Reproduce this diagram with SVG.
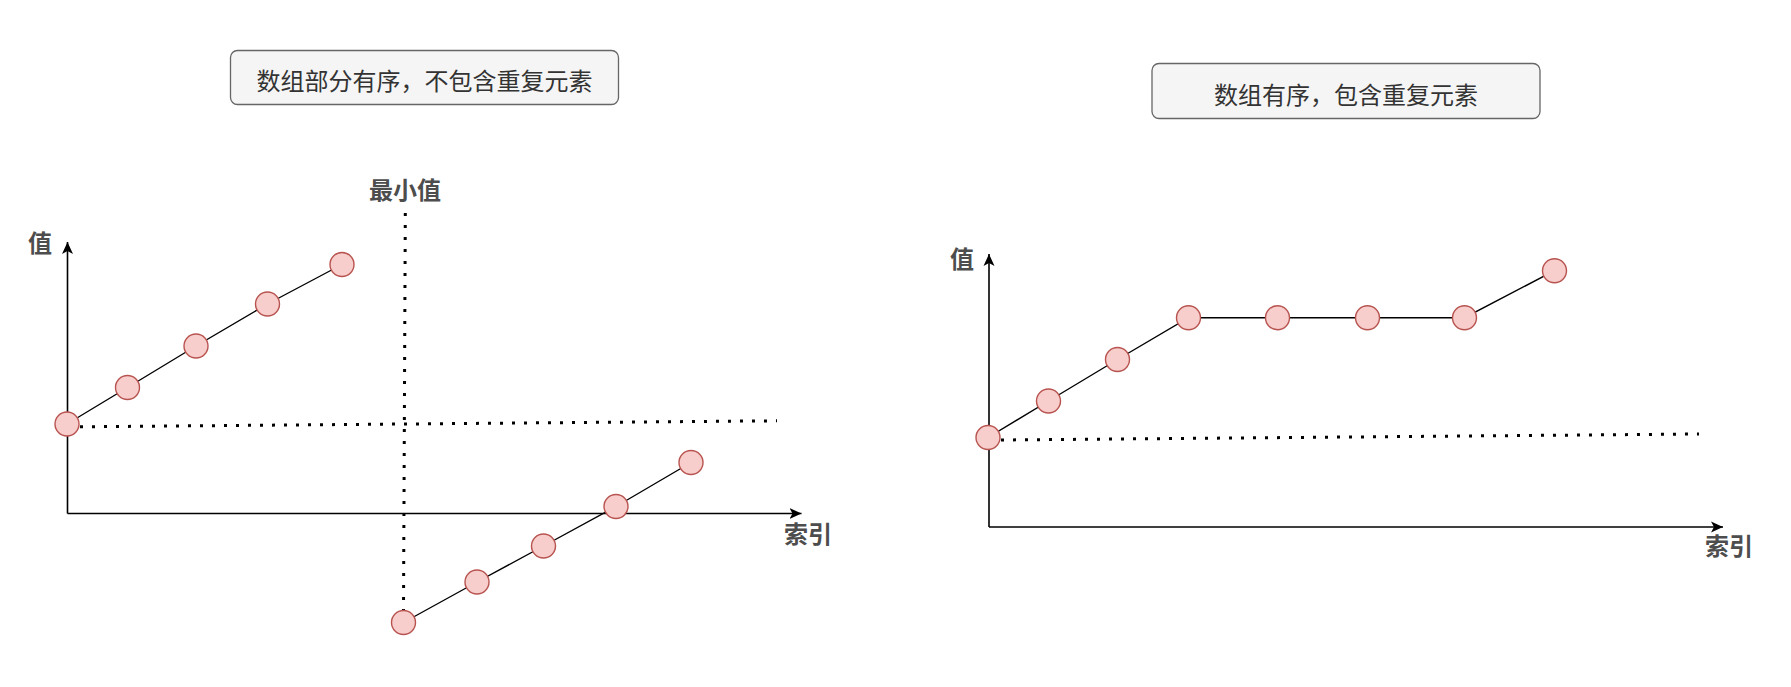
<svg xmlns="http://www.w3.org/2000/svg" width="1791" height="687" viewBox="0 0 1791 687">
<style>
.box{fill:#f5f5f5;stroke:#666666;stroke-width:1.3}
.boxtxt{font-family:"Noto Sans CJK SC","Noto Sans",sans-serif;font-size:24px;fill:#333333;text-anchor:middle}
.lbl{font-family:"Noto Sans CJK SC","Noto Sans",sans-serif;font-size:24px;font-weight:bold;fill:#4d4d4d}
.pt{fill:#f8cecc;stroke:#b85450;stroke-width:1.4}
.link{fill:none;stroke:#000000;stroke-width:1.4}
.axis{fill:none;stroke:#000000;stroke-width:1.6}
.dot{fill:none;stroke:#000000;stroke-width:3;stroke-dasharray:3 9}
</style>
<defs>
<marker id="arr" markerUnits="userSpaceOnUse" markerWidth="14" markerHeight="12" refX="12" refY="6" orient="auto">
<path d="M0,0.5 L12,6 L0,11.5 L3,6 Z" fill="#000000"/>
</marker>
</defs>
<rect width="1791" height="687" fill="#ffffff"/>

<g id="title-left">
<rect class="box" x="230.5" y="50.5" width="388" height="54" rx="7"/>
<text class="boxtxt" x="424.5" y="90">数组部分有序，不包含重复元素</text>
</g>
<g id="title-right">
<rect class="box" x="1152" y="63.5" width="388" height="55" rx="7"/>
<text class="boxtxt" x="1346" y="104">数组有序，包含重复元素</text>
</g>

<g id="labels">
<text id="lbl-val-left" class="lbl" x="28" y="252">值</text>
<text id="lbl-min" class="lbl" x="369" y="199">最小值</text>
<text id="lbl-idx-left" class="lbl" x="784" y="543">索引</text>
<text id="lbl-val-right" class="lbl" x="950" y="268">值</text>
<text id="lbl-idx-right" class="lbl" x="1705" y="555">索引</text>
</g>

<g id="connectors">
<!-- axes -->
<path class="axis" d="M67.5,513.5 L67.5,242" marker-end="url(#arr)"/>
<path class="axis" d="M67.5,513.5 L801.5,513.5" marker-end="url(#arr)"/>
<path class="axis" d="M989,527 L989,254" marker-end="url(#arr)"/>
<path class="axis" d="M989,527 L1723,527" marker-end="url(#arr)"/>
<!-- dotted guides -->
<path class="dot" d="M80,426.8 L777,420.8"/>
<path class="dot" d="M405.3,213 L403.5,610"/>
<path class="dot" d="M1001,440 L1699,434"/>
<!-- left upper series -->
<polyline class="link" points="67,424 127.5,387.5 196,346 267.5,304 342,264.5"/>
<!-- left lower series -->
<polyline class="link" points="403.5,622.5 477,582 543.5,546 616,506.5 691,462.5"/>
<!-- right series -->
<polyline class="link" points="988,437.5 1048.5,401 1117.5,359.5 1188.5,317.7 1277.5,317.7 1367.5,317.7 1464.5,317.7 1554.5,270.7"/>
</g>

<g id="left-upper-points">
<circle id="lu1" class="pt" cx="67" cy="424" r="12"/>
<circle id="lu2" class="pt" cx="127.5" cy="387.5" r="12"/>
<circle id="lu3" class="pt" cx="196" cy="346" r="12"/>
<circle id="lu4" class="pt" cx="267.5" cy="304" r="12"/>
<circle id="lu5" class="pt" cx="342" cy="264.5" r="12"/>
</g>
<g id="left-lower-points">
<circle id="ll1" class="pt" cx="403.5" cy="622.5" r="12"/>
<circle id="ll2" class="pt" cx="477" cy="582" r="12"/>
<circle id="ll3" class="pt" cx="543.5" cy="546" r="12"/>
<circle id="ll4" class="pt" cx="616" cy="506.5" r="12"/>
<circle id="ll5" class="pt" cx="691" cy="462.5" r="12"/>
</g>
<g id="right-points">
<circle id="r1" class="pt" cx="988" cy="437.5" r="12"/>
<circle id="r2" class="pt" cx="1048.5" cy="401" r="12"/>
<circle id="r3" class="pt" cx="1117.5" cy="359.5" r="12"/>
<circle id="r4" class="pt" cx="1188.5" cy="317.7" r="12"/>
<circle id="r5" class="pt" cx="1277.5" cy="317.7" r="12"/>
<circle id="r6" class="pt" cx="1367.5" cy="317.7" r="12"/>
<circle id="r7" class="pt" cx="1464.5" cy="317.7" r="12"/>
<circle id="r8" class="pt" cx="1554.5" cy="270.7" r="12"/>
</g>
</svg>
